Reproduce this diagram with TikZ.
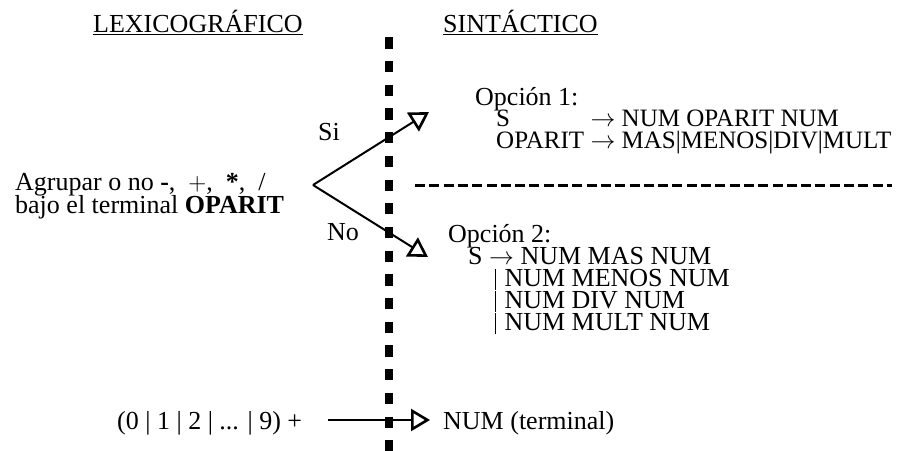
\documentclass[tikz,border=0pt]{standalone}
\usepackage{fontspec}
\setmainfont{Liberation Serif}
\usetikzlibrary{arrows.meta}

% short vertical bar for the alternatives of a production
\newcommand{\altbar}{\rule[-0.15em]{1pt}{0.8em}\hspace{0.32em}}

\tikzset{
  txt/.style={inner sep=0pt, anchor=base west, font=\fontsize{26}{22}\selectfont},
  gram/.style={inner sep=0pt, anchor=base west, font=\fontsize{25}{21}\selectfont},
  conn/.style={line width=2pt, -{Triangle[open, length=19pt, width=22pt, line width=2.6pt]}},
  divider/.style={line width=7.7pt, dash pattern=on 11.2pt off 12.5pt},
  separator/.style={line width=3pt, dash pattern=on 10pt off 4.3pt},
  uline/.style={line width=1.5pt}
}

\begin{document}
\begin{tikzpicture}[x=1pt, y=-1pt]
  \useasboundingbox (0,0) rectangle (916,450);

  % column headings
  \node[txt] (lex) at (93,32) {LEXICOGRÁFICO};
  \node[txt] (sin) at (443,32) {SINTÁCTICO};
  \draw[uline] ([yshift=-2.5pt]lex.base west) -- ([yshift=-2.5pt]lex.base east);
  \draw[uline] ([yshift=-2.5pt]sin.base west) -- ([yshift=-2.5pt]sin.base east);

  % boundary between the two phases
  \draw[divider] (388.8,37.3) -- (388.8,452);

  % grouping decision
  \node[txt] (q1) at (15,190) {Agrupar o no \textbf{-},\ \ $+$,\ \ \textbf{*},\ \ /};
  \node[txt] (q2) at (15,213) {bajo el terminal \textbf{OPARIT}};

  \coordinate (fork) at (313,185);
  \coordinate (tipSi) at (429,112);
  \coordinate (tipNo) at (428,257);
  \draw[conn] (fork) -- (tipSi);
  \draw[conn] (fork) -- (tipNo);
  \node[txt] (si) at (318,140) {Si};
  \node[txt] (no) at (327,240) {No};

  % option 1
  \node[txt] (o1) at (475,105) {Opción 1:};
  \node[gram] (o1s) at (496,126.5) {S};
  \node[gram] (o1o) at (496,148) {OPARIT};
  \node[gram] (o1r) at ([xshift=6pt]o1o.base east |- o1s.base) {$\rightarrow$ NUM OPARIT NUM};
  \node[gram] (o1p) at ([xshift=6pt]o1o.base east) {$\rightarrow$ MAS|MENOS|DIV|MULT};

  \draw[separator] (415,185) -- (o1p.east |- 0,185);

  % option 2
  \node[txt] (o2) at (448,242) {Opción 2:};
  \node[txt] (o2s) at (468,264) {S $\rightarrow$ NUM MAS NUM};
  \node[txt] (o2b) at (495,286) {\altbar NUM MENOS NUM};
  \node[txt] (o2c) at (495,308) {\altbar NUM DIV NUM};
  \node[txt] (o2d) at (495,330) {\altbar NUM MULT NUM};

  % number token
  \node[txt] (digits) at (117,429) {(0 | 1 | 2 | ... | 9) +};
  \node[txt] (num) at (443,429) {NUM (terminal)};
  \coordinate (numFrom) at (328,420);
  \coordinate (numTip) at (430,420);
  \draw[conn] (numFrom) -- (numTip);
\end{tikzpicture}
\end{document}
